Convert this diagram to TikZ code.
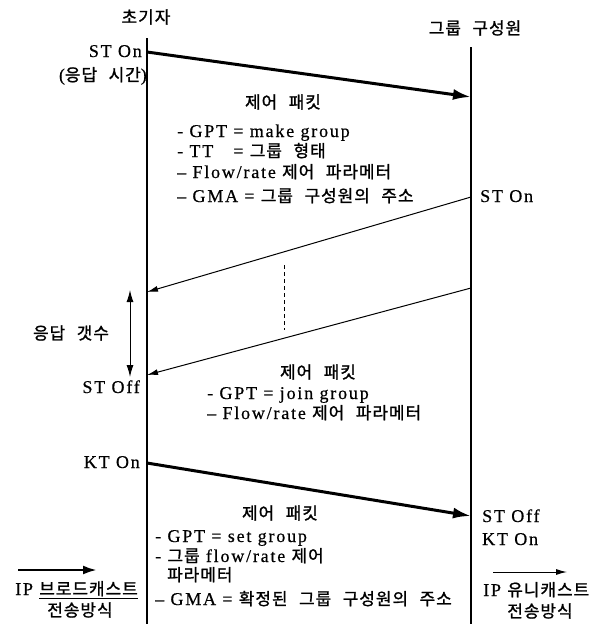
\documentclass[tikz,border=0pt]{standalone}
\usepackage{fontspec}
\setmainfont[LetterSpace=10,FakeBold=0.5]{Liberation Serif}
\newfontfamily\kr[Scale=0.94,WordSpace=2.4,LetterSpace=6,FakeBold=1.2]{Noto Sans CJK KR}
\newcommand\ko[1]{{\kr #1}}
\usetikzlibrary{arrows.meta}
\begin{document}
\begin{tikzpicture}[x=1pt,y=-1pt,
  txt/.style={inner sep=0pt,font=\fontsize{18}{21}\selectfont},
  lifeline/.style={line width=1.8pt},
  thickmsg/.style={line width=3pt,-{Latex[length=18pt,width=11pt]}},
  thinmsg/.style={line width=1pt,-{Latex[length=11pt,width=6pt]}},
  span/.style={line width=1pt,{Latex[length=12pt,width=7pt]}-{Latex[length=12pt,width=7pt]}},
  dots/.style={line width=1pt,dash pattern=on 4pt off 3pt}]
\useasboundingbox (0,0) rectangle (606,624);
% lifelines
\coordinate (L0) at (147,38);
\coordinate (L1) at (147,624);
\coordinate (R0) at (471,47);
\coordinate (R1) at (471,624);
\draw[lifeline] (L0) -- (L1);
\draw[lifeline] (R0) -- (R1);
% headers
\node[txt] (init) at (146,17) {\ko{초기자}};
\node[txt] (member) at (475,28) {\ko{그룹 구성원}};
% message 1
\coordinate (m1s) at (147,52);
\coordinate (m1e) at (471,97);
\draw[thickmsg] (m1s) -- (m1e);
\node[txt,anchor=base east] (ston1) at (142,57) {ST On};
\node[txt,anchor=base east] (resp) at (147,81) {(\ko{응답 시간})};
\node[txt] (cp1) at (283,102) {\ko{제어 패킷}};
\node[txt,anchor=base west] (p1a) at (177,137) {- GPT = make group};
\node[txt,anchor=base west] (p1b) at (177,157) {- \rlap{TT}\phantom{GPT} = \ko{그룹 형태}};
\node[txt,anchor=base west] (p1c) at (177,178) {– Flow/rate \ko{제어 파라메터}};
\node[txt,anchor=base west] (p1d) at (177,202) {– GMA = \ko{그룹 구성원의 주소}};
% replies
\node[txt,anchor=base west] (ston2) at (480,202) {ST On};
\coordinate (m2s) at (471,197);
\coordinate (m2e) at (147,292);
\draw[thinmsg] (m2s) -- (m2e);
\coordinate (d0) at (284,265);
\coordinate (d1) at (284,330);
\draw[dots] (d0) -- (d1);
\coordinate (m3s) at (471,288);
\coordinate (m3e) at (147,375);
\draw[thinmsg] (m3s) -- (m3e);
\coordinate (s0) at (130,290);
\coordinate (s1) at (130,377);
\draw[span] (s0) -- (s1);
\node[txt] (cnt) at (71,333) {\ko{응답 갯수}};
\node[txt,anchor=base east] (stoff1) at (140,393) {ST Off};
\node[txt] (cp2) at (318,372) {\ko{제어 패킷}};
\node[txt,anchor=base west] (p2a) at (207,399) {- GPT = join group};
\node[txt,anchor=base west] (p2b) at (207,419) {– Flow/rate \ko{제어 파라메터}};
% message 4
\node[txt,anchor=base east] (kton1) at (140,468) {KT On};
\coordinate (m4s) at (147,463);
\coordinate (m4e) at (471,516);
\draw[thickmsg] (m4s) -- (m4e);
\node[txt,anchor=base west] (stoff2) at (482,522) {ST Off};
\node[txt,anchor=base west] (kton2) at (482,545) {KT On};
\node[txt] (cp3) at (280,513) {\ko{제어 패킷}};
\node[txt,anchor=base west] (p3a) at (155,542) {- GPT = set group};
\node[txt,anchor=base west] (p3b) at (155,562) {- \ko{그룹} flow/rate \ko{제어}};
\node[txt,anchor=base west] (p3c) at (167,581) {\ko{파라메터}};
\node[txt,anchor=base west] (p3d) at (155,605) {– GMA = \ko{확정된 그룹 구성원의 주소}};
% bottom legends
\coordinate (b0) at (18,570);
\coordinate (b1) at (97,570);
\draw[line width=2.5pt,-{Latex[length=14pt,width=9pt]}] (b0) -- (b1);
\node[txt,anchor=base west] (bc) at (15,595) {IP \underline{\ko{브로드캐스트}}};
\node[txt] (bc2) at (80,610) {\ko{전송방식}};
\coordinate (u0) at (493,572);
\coordinate (u1) at (567,572);
\draw[line width=1pt,-{Latex[length=11pt,width=6pt]}] (u0) -- (u1);
\node[txt,anchor=base west] (uc) at (483,596) {IP \ko{유니캐스트}};
\node[txt] (uc2) at (540,611) {\ko{전송방식}};
\end{tikzpicture}
\end{document}
